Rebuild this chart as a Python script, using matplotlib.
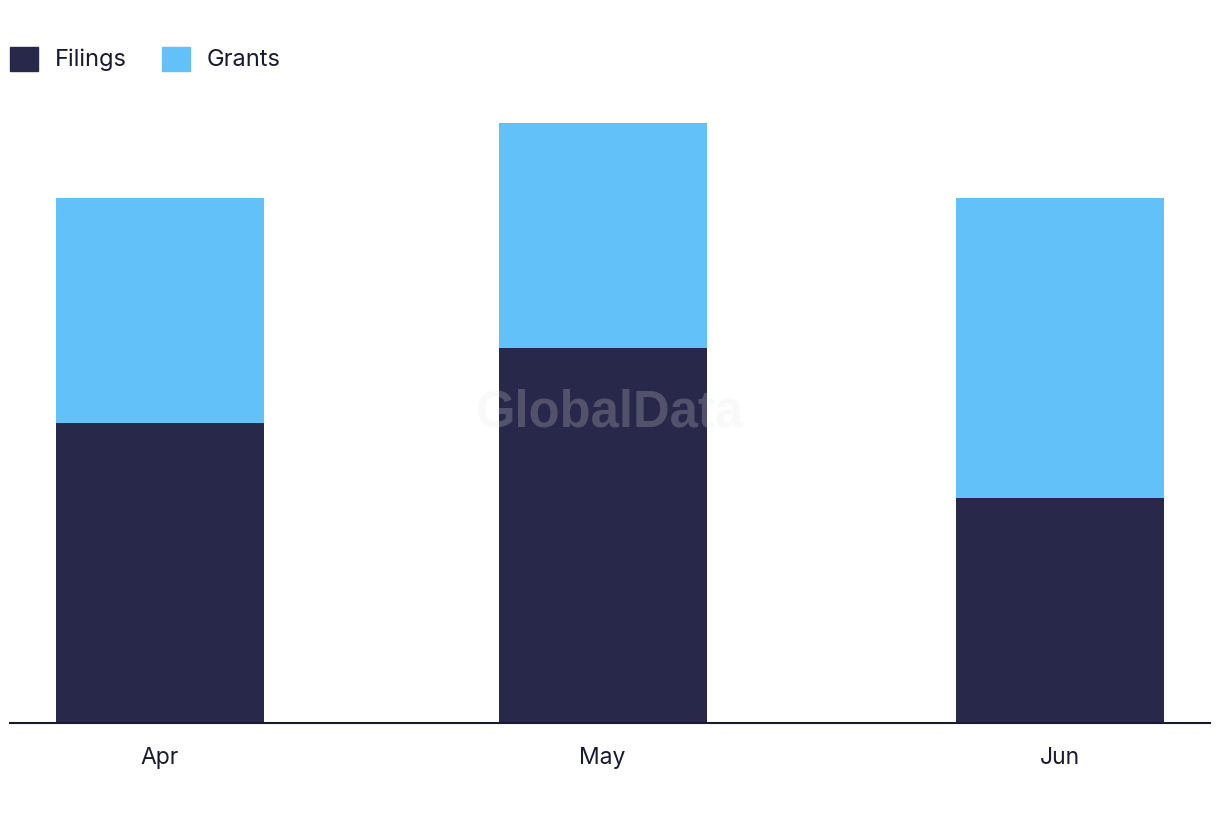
import datetime as dt
import matplotlib
matplotlib.use('Agg')
import matplotlib.pyplot as plt
import matplotlib.dates as mdates
from matplotlib.patches import Patch

# data
months = [dt.date(2023, 4, 1), dt.date(2023, 5, 1), dt.date(2023, 6, 1)]
month_labels = ['Apr', 'May', 'Jun']
filings = [4, 5, 3]
grants = [3, 3, 4]

NAVY = '#28284a'
BLUE = '#62c1f9'

plt.rcParams['font.family'] = ['Inter', 'DejaVu Sans']

fig = plt.figure(figsize=(12.2, 8.22), dpi=100)
ax = fig.add_axes([10 / 1220, 99 / 822, 1200 / 1220, 660 / 822])

x = mdates.date2num(months)
width = 14.1
ax.bar(x, filings, width=width, color=NAVY, label='Filings')
ax.bar(x, grants, width=width, bottom=filings, color=BLUE, label='Grants')

ax.set_xlim(x[0] - 10.17, x[-1] + 10.17)
ax.set_ylim(0, 8.8)
ax.set_xticks(x)
ax.set_xticklabels(month_labels, fontsize=16.5, color='#1a1a2e')
ax.tick_params(axis='x', length=0, pad=17)
ax.set_yticks([])
for side in ['top', 'right', 'left']:
    ax.spines[side].set_visible(False)
ax.spines['bottom'].set_linewidth(1.5)
ax.spines['bottom'].set_color('#1a1a2e')

# watermark
fig.text(0.5, 1 - 413 / 822, 'GlobalData', ha='center', va='center', fontsize=36.5,
         fontweight='bold', color='#e8e8e8', alpha=0.22,
         family=['Liberation Sans', 'DejaVu Sans'])

handles = [Patch(color=NAVY, label='Filings'), Patch(color=BLUE, label='Grants')]
fig.legend(handles=handles, loc='center left', bbox_to_anchor=(10 / 1220, 1 - 59 / 822),
           ncol=2, frameon=False, fontsize=17, handlelength=1.19, handleheight=1.19,
           handletextpad=0.72, columnspacing=1.48, borderaxespad=0, borderpad=0,
           labelcolor='#1a1a2e')

fig.savefig('out.png', dpi=100)
